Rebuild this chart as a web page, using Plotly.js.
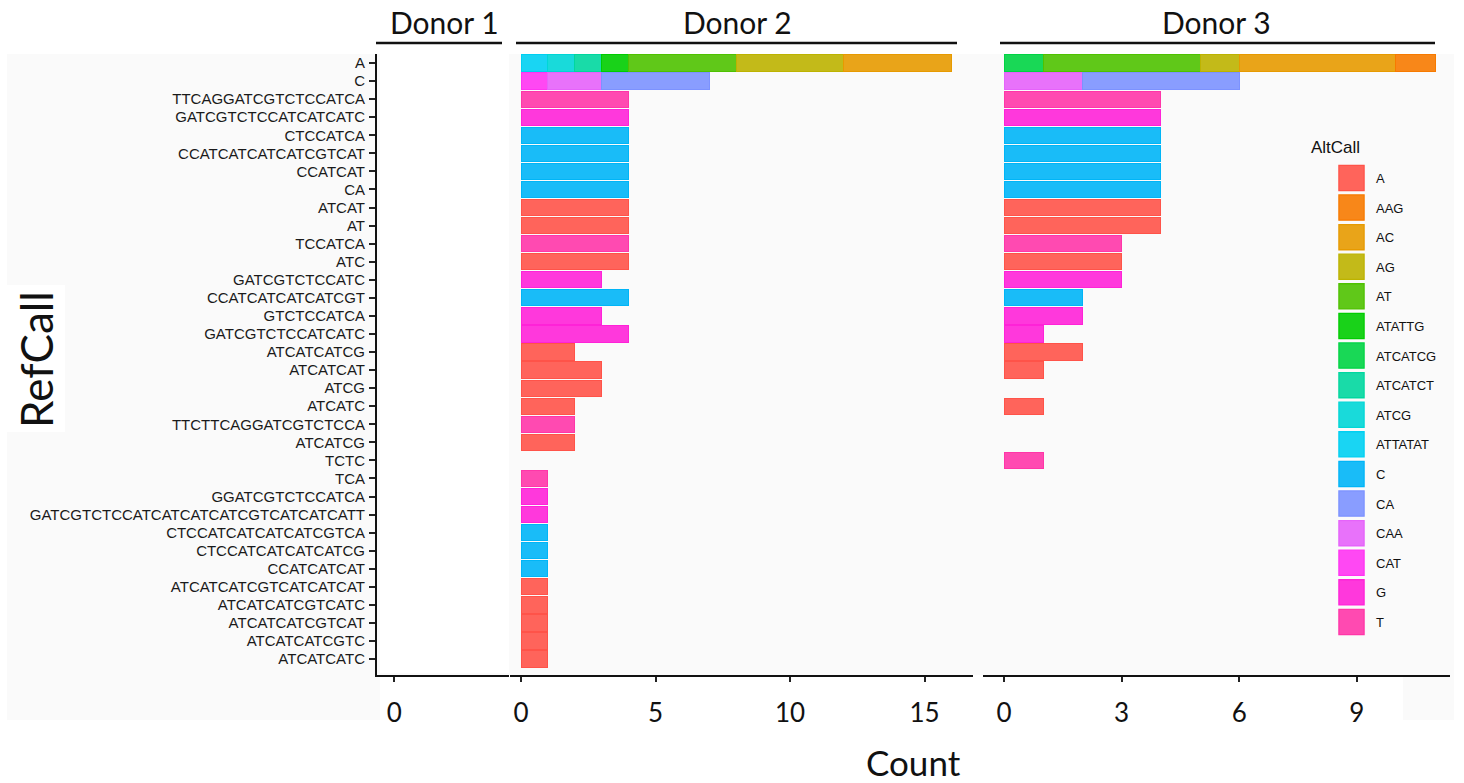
<!DOCTYPE html>
<html>
<head>
<meta charset="utf-8">
<script src="https://cdn.plot.ly/plotly-3.0.1.min.js"></script>
<style>html,body{margin:0;padding:0;background:#fff;}#chart{width:1464px;height:783px;}</style>
</head>
<body>
<div id="chart"></div>
<script>
// ---------- data ----------
const refCalls = ["A","C","TTCAGGATCGTCTCCATCA","GATCGTCTCCATCATCATC","CTCCATCA","CCATCATCATCATCGTCAT","CCATCAT","CA","ATCAT","AT","TCCATCA","ATC","GATCGTCTCCATC","CCATCATCATCATCGT","GTCTCCATCA","GATCGTCTCCATCATC","ATCATCATCG","ATCATCAT","ATCG","ATCATC","TTCTTCAGGATCGTCTCCA","ATCATCG","TCTC","TCA","GGATCGTCTCCATCA","GATCGTCTCCATCATCATCATCGTCATCATCATT","CTCCATCATCATCATCGTCA","CTCCATCATCATCATCG","CCATCATCAT","ATCATCATCGTCATCATCAT","ATCATCATCGTCATC","ATCATCATCGTCAT","ATCATCATCGTC","ATCATCATC"];

const altCalls = ["A","AAG","AC","AG","AT","ATATTG","ATCATCG","ATCATCT","ATCG","ATTATAT","C","CA","CAA","CAT","G","T"];
const altColors = ["#FF5349","#F77A00","#E79A00","#BDB300","#4FC200","#00CD00","#00D444","#00D79F","#00D6D6","#00D0F2","#00B5F7","#7C92FF","#E563FA","#FF34F2","#FF22D8","#FF36A8"];

const donors = ["Donor 1","Donor 2","Donor 3"];

// Donor 1: no records
const donor1Ref = [];
const donor1Alt = [];
const donor1Count = [];

// Donor 2
const donor2Ref = ["A","A","A","A","A","A","A","C","C","C","TTCAGGATCGTCTCCATCA","GATCGTCTCCATCATCATC","CTCCATCA","CCATCATCATCATCGTCAT","CCATCAT","CA","ATCAT","AT","TCCATCA","ATC","GATCGTCTCCATC","CCATCATCATCATCGT","GTCTCCATCA","GATCGTCTCCATCATC","ATCATCATCG","ATCATCAT","ATCG","ATCATC","TTCTTCAGGATCGTCTCCA","ATCATCG","TCA","GGATCGTCTCCATCA","GATCGTCTCCATCATCATCATCGTCATCATCATT","CTCCATCATCATCATCGTCA","CTCCATCATCATCATCG","CCATCATCAT","ATCATCATCGTCATCATCAT","ATCATCATCGTCATC","ATCATCATCGTCAT","ATCATCATCGTC","ATCATCATC"];
const donor2Alt = ["ATTATAT","ATCG","ATCATCT","ATATTG","AT","AG","AC","CAT","CAA","CA","T","G","C","C","C","C","A","A","T","A","G","C","G","G","A","A","A","A","T","A","T","G","G","C","C","C","A","A","A","A","A"];
const donor2Count = [1,1,1,1,4,4,4,1,2,4,4,4,4,4,4,4,4,4,4,4,3,4,3,4,2,3,3,2,2,2,1,1,1,1,1,1,1,1,1,1,1];

// Donor 3
const donor3Ref = ["A","A","A","A","A","C","C","TTCAGGATCGTCTCCATCA","GATCGTCTCCATCATCATC","CTCCATCA","CCATCATCATCATCGTCAT","CCATCAT","CA","ATCAT","AT","TCCATCA","ATC","GATCGTCTCCATC","CCATCATCATCATCGT","GTCTCCATCA","GATCGTCTCCATCATC","ATCATCATCG","ATCATCAT","ATCATC","TCTC"];
const donor3Alt = ["ATCATCG","AT","AG","AC","AAG","CAA","CA","T","G","C","C","C","C","A","A","T","A","G","C","G","G","A","A","A","T"];
const donor3Count = [1,4,1,4,1,2,4,4,4,4,4,4,4,4,4,3,3,3,2,2,1,2,1,1,1];

const xTickVals1 = [0];
const xTickVals2 = [0,5,10,15];
const xTickVals3 = [0,3,6,9];

// ---------- helpers ----------
const W = 1464, H = 783;
const px = v => v / W;
const py = v => 1 - v / H;
function rgba(hex, a) {
  const n = parseInt(hex.slice(1), 16);
  return `rgba(${(n>>16)&255},${(n>>8)&255},${n&255},${a})`;
}

const donorData = [
  {ref: donor2Ref, alt: donor2Alt, cnt: donor2Count, xa: "x2"},
  {ref: donor3Ref, alt: donor3Alt, cnt: donor3Count, xa: "x3"}
];

const traces = [];
// empty trace for the donor 1 panel (no records)
traces.push({type: "bar", orientation: "h", x: donor1Count, y: donor1Ref, xaxis: "x", yaxis: "y", showlegend: false, hoverinfo: "skip"});

const legendShown = {};
for (let i = altCalls.length - 1; i >= 0; i--) {
  const ac = altCalls[i], col = altColors[i];
  donorData.forEach(d => {
    const xs = [], ys = [];
    d.alt.forEach((a, k) => { if (a === ac) { xs.push(d.cnt[k]); ys.push(d.ref[k]); } });
    const show = xs.length > 0 && !legendShown[ac];
    if (show) legendShown[ac] = true;
    traces.push({
      type: "bar", orientation: "h", name: ac, legendgroup: ac, legendrank: i + 1,
      x: xs, y: ys, xaxis: d.xa, yaxis: "y",
      showlegend: show,
      marker: {color: rgba(col, 0.9), line: {color: col, width: 1}},
      hovertemplate: "%{y} → " + ac + ": %{x}<extra></extra>"
    });
  });
}

const gill = "Lato, 'Open Sans', sans-serif";
const axBase = {
  showline: true, linecolor: "#111", linewidth: 2, mirror: false,
  ticks: "outside", ticklen: 5, tickwidth: 1.5, tickcolor: "#222",
  showgrid: false, zeroline: false, automargin: false, fixedrange: true,
  tickfont: {family: gill, size: 26, color: "#111"},
  ticklabelstandoff: 9
};

const LEG_X = 1308;
const layout = {
  width: W, height: H,
  margin: {l: 0, r: 0, t: 0, b: 0},
  paper_bgcolor: "#ffffff", plot_bgcolor: "rgba(0,0,0,0)",
  barmode: "stack", bargap: 0.1,
  showlegend: true,
  legend: {
    x: px(LEG_X), y: py(163), xanchor: "left", yanchor: "top",
    bgcolor: "rgba(0,0,0,0)", traceorder: "grouped", tracegroupgap: 9.7,
    font: {family: "Liberation Sans, Arial, sans-serif", size: 13, color: "#111"},
    itemwidth: 58
  },
  xaxis: Object.assign({}, axBase, {domain: [px(377), px(509)], range: [-0.15, 1], tickvals: xTickVals1, anchor: "y"}),
  xaxis2: Object.assign({}, axBase, {domain: [px(510), px(973)], range: [-0.409, 16.803], tickvals: xTickVals2, anchor: "y"}),
  xaxis3: Object.assign({}, axBase, {domain: [px(983), px(1450)], range: [-0.536, 11.378], tickvals: xTickVals3, anchor: "y"}),
  yaxis: {
    domain: [py(675), py(54)], anchor: "x", type: "category",
    categoryorder: "array", categoryarray: refCalls, range: [33.88, -0.5],
    showline: true, linecolor: "#111", linewidth: 2,
    ticks: "outside", ticklen: 6, tickwidth: 1.5, tickcolor: "#222",
    showgrid: false, zeroline: false, automargin: false, fixedrange: true,
    tickfont: {family: "Liberation Sans, Arial, sans-serif", size: 15, color: "#1a1a1a"},
    ticklabelstandoff: 1
  },
  shapes: [
    {type: "rect", xref: "paper", yref: "paper", x0: px(7), x1: px(1454), y0: py(675), y1: py(54), fillcolor: "#FAFAFA", line: {width: 0}, layer: "below"},
    {type: "rect", xref: "paper", yref: "paper", x0: px(7), x1: px(380), y0: py(720), y1: py(675), fillcolor: "#FAFAFA", line: {width: 0}, layer: "below"},
    {type: "rect", xref: "paper", yref: "paper", x0: px(1403), x1: px(1454), y0: py(720), y1: py(675), fillcolor: "#FAFAFA", line: {width: 0}, layer: "below"},
    {type: "rect", xref: "paper", yref: "paper", x0: px(380), x1: px(509), y0: py(673), y1: py(54), fillcolor: "#FFFFFF", line: {width: 0}, layer: "below"},
    {type: "rect", xref: "paper", yref: "paper", x0: px(5), x1: px(65), y0: py(432), y1: py(285), fillcolor: "#FFFFFF", line: {width: 0}, layer: "below"},
    {type: "line", xref: "paper", yref: "paper", x0: px(376), x1: px(502), y0: py(43), y1: py(43), line: {color: "#111", width: 2.5}},
    {type: "line", xref: "paper", yref: "paper", x0: px(516), x1: px(957), y0: py(43), y1: py(43), line: {color: "#111", width: 2.5}},
    {type: "line", xref: "paper", yref: "paper", x0: px(1000), x1: px(1435), y0: py(43), y1: py(43), line: {color: "#111", width: 2.5}}
  ],
  annotations: [
    {text: donors[0], xref: "paper", yref: "paper", x: px(445), y: py(22), showarrow: false, xanchor: "center", yanchor: "middle", font: {family: gill, size: 30, color: "#111"}},
    {text: donors[1], xref: "paper", yref: "paper", x: px(738), y: py(22), showarrow: false, xanchor: "center", yanchor: "middle", font: {family: gill, size: 30, color: "#111"}},
    {text: donors[2], xref: "paper", yref: "paper", x: px(1216), y: py(22), showarrow: false, xanchor: "center", yanchor: "middle", font: {family: gill, size: 30, color: "#111"}},
    {text: "Count", xref: "paper", yref: "paper", x: px(913), y: py(762), showarrow: false, xanchor: "center", yanchor: "middle", font: {family: gill, size: 35, color: "#111"}},
    {text: "RefCall", xref: "paper", yref: "paper", x: px(36), y: py(360), showarrow: false, textangle: -90, xanchor: "center", yanchor: "middle", font: {family: gill, size: 44, color: "#111"}},
    {text: "AltCall", xref: "paper", yref: "paper", x: px(1309), y: py(147), showarrow: false, xanchor: "left", yanchor: "middle", font: {family: "Liberation Sans, Arial, sans-serif", size: 17, color: "#111"}}
  ]
};

Plotly.newPlot("chart", traces, layout, {displayModeBar: false}).then(() => {
  // enlarge legend keys to the square size used in the reference
  document.querySelectorAll(".legend .legendpoints path").forEach(p => {
    p.setAttribute("transform", "translate(43.5,0) scale(2.1)");
    p.style.strokeWidth = "0.6px";
  });
});
</script>
</body>
</html>
